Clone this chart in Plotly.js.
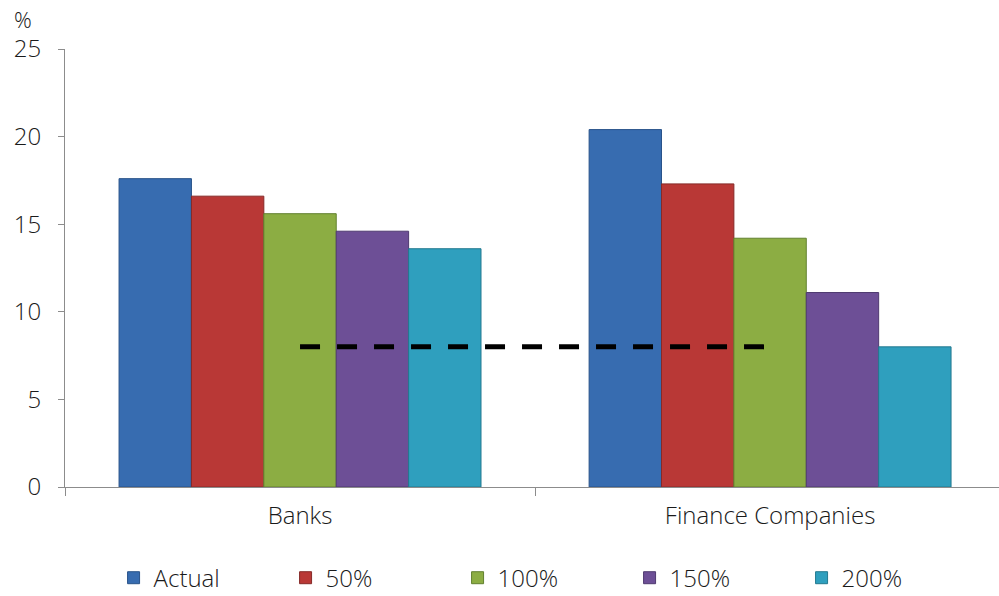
<!DOCTYPE html>
<html>
<head>
<meta charset="utf-8">
<script src="https://cdn.plot.ly/plotly-3.0.1.min.js"></script>
<style>
  html, body { margin: 0; padding: 0; background: #ffffff; }
  #chart { width: 999px; height: 596px; }
</style>
</head>
<body>
<div id="chart"></div>
<script>
// Capital ratios by sector under each stress scenario
const categories = ['Banks', 'Finance Companies'];
const seriesNames = ['Actual', '50%', '100%', '150%', '200%'];
const actual = [17.6, 20.4];
const s50 = [16.6, 17.3];
const s100 = [15.6, 14.2];
const s150 = [14.6, 11.1];
const s200 = [13.6, 8.0];
const thresholdLevel = [8, 8];

const fills = ['#376cb0', '#b93836', '#8cad43', '#6d4f96', '#2f9fbe'];
const edges = ['#29538a', '#862a28', '#62812f', '#4f3a70', '#23798f'];
const seriesValues = [actual, s50, s100, s150, s200];

const font = "'Open Sans', Lato, 'DejaVu Sans', sans-serif";
const textColor = '#1a1a1a';

const traces = seriesValues.map((vals, i) => ({
  type: 'bar',
  name: seriesNames[i],
  x: categories,
  y: vals,
  marker: { color: fills[i], line: { color: edges[i], width: 1 } },
  hoverinfo: 'name+y'
}));

// Minimum requirement line across the two sectors
traces.push({
  type: 'scatter',
  mode: 'lines',
  x: categories,
  y: thresholdLevel,
  line: { color: '#000000', width: 5, dash: '20px,17px' },
  showlegend: false,
  hoverinfo: 'skip'
});

const layout = {
  width: 999,
  height: 596,
  margin: { l: 65, r: 0, t: 49, b: 109, autoexpand: false },
  paper_bgcolor: '#ffffff',
  plot_bgcolor: '#ffffff',
  barmode: 'group',
  bargap: 0.23,
  bargroupgap: 0,
  font: { family: font, size: 24, color: textColor, weight: 300 },
  xaxis: {
    type: 'category',
    range: [-0.5, 1.487],
    automargin: false,
    showline: true,
    linecolor: '#8c8c8c',
    linewidth: 1,
    ticks: 'outside',
    tickson: 'boundaries',
    ticklen: 8,
    tickcolor: '#8c8c8c',
    ticklabelstandoff: 7,
    showgrid: false,
    zeroline: false,
    tickfont: { family: font, size: 24, color: textColor, weight: 300 }
  },
  yaxis: {
    range: [0, 25],
    dtick: 5,
    automargin: false,
    showline: true,
    linecolor: '#8c8c8c',
    linewidth: 1,
    ticks: 'outside',
    ticklen: 6,
    tickcolor: '#8c8c8c',
    ticklabelstandoff: 12,
    showgrid: false,
    zeroline: false,
    tickfont: { family: font, size: 24, color: textColor, weight: 300 }
  },
  legend: {
    orientation: 'h',
    x: 0.052,
    xanchor: 'left',
    y: -0.208,
    yanchor: 'middle',
    entrywidth: 127,
    entrywidthmode: 'pixels',
    itemwidth: 30,
    font: { family: font, size: 24, color: textColor, weight: 300 },
    traceorder: 'normal'
  },
  annotations: [{
    text: '%',
    xref: 'paper', yref: 'paper',
    x: 0, y: 1,
    xshift: -42, yshift: 30,
    xanchor: 'center', yanchor: 'middle',
    showarrow: false,
    font: { family: font, size: 22, color: textColor, weight: 300 }
  }]
};

Plotly.newPlot('chart', traces, layout, { displayModeBar: false, staticPlot: true });
</script>
</body>
</html>
